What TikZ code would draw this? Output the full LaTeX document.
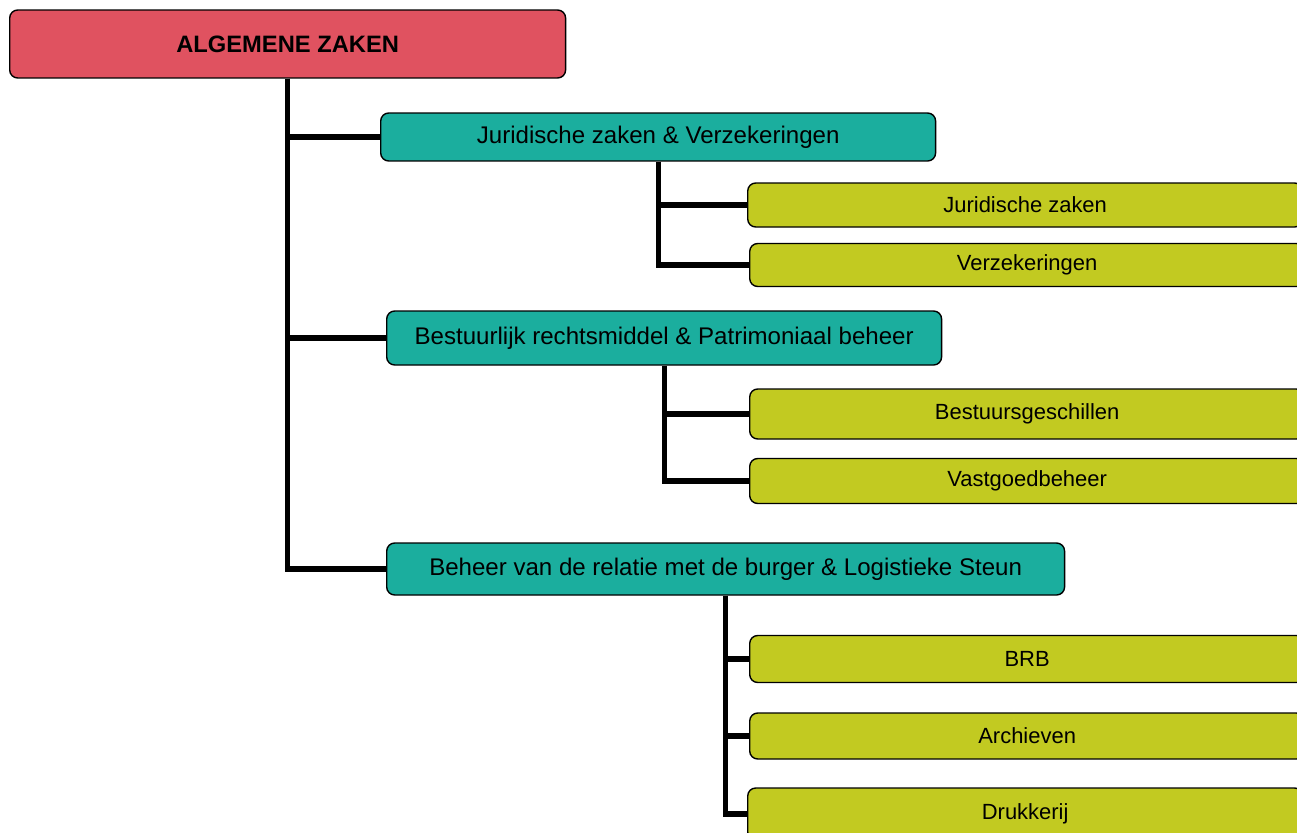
\documentclass[tikz,border=0pt]{standalone}
\usepackage{fontspec}
\setmainfont{Liberation Sans}
\definecolor{rootred}{HTML}{E05260}
\definecolor{unitteal}{HTML}{1BAE9E}
\definecolor{subolive}{HTML}{C2CA21}
\begin{document}
\begin{tikzpicture}[
    x=0.02cm, y=-0.02cm,
    box/.style={draw=black, line width=0.8pt, rounded corners=1.6mm, anchor=west, inner sep=0pt, align=center},
    rootbox/.style={box, fill=rootred, minimum width=11.12cm, minimum height=1.36cm, font=\fontsize{13.5}{16}\selectfont\bfseries},
    unitbox/.style={box, fill=unitteal, minimum height=1cm, font=\fontsize{13.7}{16}\selectfont},
    subbox/.style={box, fill=subolive, minimum width=11.1cm, minimum height=0.92cm, font=\fontsize{12.5}{15}\selectfont},
    link/.style={draw, line width=3pt}
]
\useasboundingbox (0,0) rectangle (1297,832);
\node [rootbox] (algemeen) at (9,44) {ALGEMENE ZAKEN};
\node [unitbox, minimum width=11.1cm, minimum height=0.96cm] (jurver) at (380,137) {Juridische zaken \& Verzekeringen};
\node [subbox, minimum height=0.88cm] (juridisch) at (747,205) {Juridische zaken};
\node [subbox, minimum height=0.86cm] (verzek) at (749,265) {Verzekeringen};
\node [unitbox, minimum width=11.1cm, minimum height=1.08cm] (bestpat) at (386,338) {Bestuurlijk rechtsmiddel \& Patrimoniaal beheer};
\node [subbox, minimum height=1cm] (geschil) at (749,414) {Bestuursgeschillen};
\node [subbox, minimum height=0.9cm] (vastgoed) at (749,481) {Vastgoedbeheer};
\node [unitbox, minimum width=13.56cm, minimum height=1.04cm] (burger) at (386,569) {Beheer van de relatie met de burger \& Logistieke Steun};
\node [subbox, minimum height=0.94cm] (brb) at (749,659) {BRB};
\node [subbox, minimum height=0.92cm] (archief) at (749,736) {Archieven};
\node [subbox, minimum height=1.04cm] (drukkerij) at (747,814) {Drukkerij};

% links from the top
\foreach \unit in {jurver, bestpat, burger}
    \draw [link] (algemeen.south) |- (\unit.west);
\foreach \sub in {juridisch, verzek}
    \draw [link] (jurver.south) |- (\sub.west);
\foreach \sub in {geschil, vastgoed}
    \draw [link] (bestpat.south) |- (\sub.west);
\foreach \sub in {brb, archief, drukkerij}
    \draw [link] (burger.south) |- (\sub.west);
\end{tikzpicture}
\end{document}
